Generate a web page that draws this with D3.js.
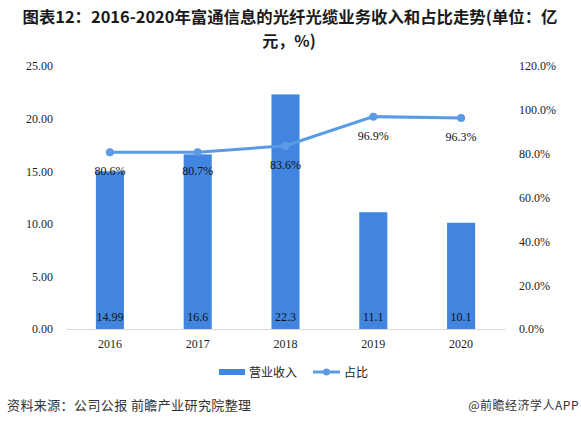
<!DOCTYPE html>
<html>
<head>
<meta charset="utf-8">
<script src="https://cdn.jsdelivr.net/npm/d3@7"></script>
<style>
  body { margin: 0; background: #fff; }
  #chart { width: 581px; height: 425px; }
</style>
</head>
<body>
<div id="chart"></div>
<script>
const years = ["2016", "2017", "2018", "2019", "2020"];
const revenue = [14.99, 16.6, 22.3, 11.1, 10.1];
const revenueLabels = ["14.99", "16.6", "22.3", "11.1", "10.1"];
const share = [80.6, 80.7, 83.6, 96.9, 96.3];
const leftTicks = [0, 5, 10, 15, 20, 25];
const rightTicks = [0, 20, 40, 60, 80, 100, 120];

const W = 581, H = 425;
const margin = { top: 66, left: 66, right: 76, bottom: 96 };
const serif = "'Liberation Serif', 'Times New Roman', serif";
const sans = "'Noto Sans CJK SC', 'Noto Sans', sans-serif";

const svg = d3.select("#chart").append("svg")
    .attr("width", W)
    .attr("height", H);

const x = d3.scaleBand()
    .domain(years)
    .range([margin.left, W - margin.right])
    .paddingInner(0.68)
    .paddingOuter(0.34);

const yL = d3.scaleLinear().domain([0, 25]).range([H - margin.bottom, margin.top]);
const yR = d3.scaleLinear().domain([0, 120]).range([H - margin.bottom, margin.top]);

// title, two lines like the original
svg.append("text")
    .attr("x", 290).attr("y", 23)
    .attr("text-anchor", "middle")
    .attr("font-family", sans)
    .attr("font-weight", "bold")
    .attr("font-size", 16)
    .attr("fill", "#1a1a1a")
    .attr("textLength", 535)
    .attr("lengthAdjust", "spacingAndGlyphs")
    .text("图表12：2016-2020年富通信息的光纤光缆业务收入和占比走势(单位：亿");
svg.append("text")
    .attr("x", 289).attr("y", 47)
    .attr("text-anchor", "middle")
    .attr("font-family", sans)
    .attr("font-weight", "bold")
    .attr("font-size", 16)
    .attr("fill", "#1a1a1a")
    .text("元，%)");

// left axis
const leftAxis = svg.append("g")
    .attr("transform", `translate(${margin.left - 10},0)`)
    .call(d3.axisLeft(yL).tickValues(leftTicks).tickFormat(d3.format(".2f")).tickSize(0));
leftAxis.select(".domain").remove();
leftAxis.selectAll("text")
    .attr("font-family", serif).attr("font-size", 12).attr("fill", "#222");

// right axis
const rightAxis = svg.append("g")
    .attr("transform", `translate(${W - margin.right + 11},0)`)
    .call(d3.axisRight(yR).tickValues(rightTicks).tickFormat(d => d.toFixed(1) + "%").tickSize(0));
rightAxis.select(".domain").remove();
rightAxis.selectAll("text")
    .attr("font-family", serif).attr("font-size", 12).attr("fill", "#222");

// x axis
const xAxis = svg.append("g")
    .attr("transform", `translate(0,${H - margin.bottom})`)
    .call(d3.axisBottom(x).tickSize(0).tickPadding(10));
xAxis.select(".domain").attr("stroke", "#d9d9d9").attr("stroke-width", 1);
xAxis.selectAll("text")
    .attr("font-family", serif).attr("font-size", 12).attr("fill", "#222");

// bars
svg.selectAll("rect.bar")
    .data(revenue)
    .join("rect")
    .attr("class", "bar")
    .attr("x", (d, i) => x(years[i]))
    .attr("width", x.bandwidth())
    .attr("y", d => yL(d))
    .attr("height", d => yL(0) - yL(d))
    .attr("fill", "#4285e0");

svg.selectAll("text.barLabel")
    .data(revenueLabels)
    .join("text")
    .attr("class", "barLabel")
    .attr("x", (d, i) => x(years[i]) + x.bandwidth() / 2)
    .attr("y", yL(0) - 8)
    .attr("text-anchor", "middle")
    .attr("font-family", serif)
    .attr("font-size", 12)
    .attr("fill", "#111")
    .text(d => d);

// line
const line = d3.line()
    .x((d, i) => x(years[i]) + x.bandwidth() / 2)
    .y(d => yR(d));

svg.append("path")
    .datum(share)
    .attr("d", line)
    .attr("fill", "none")
    .attr("stroke", "#5b9be6")
    .attr("stroke-width", 3);

svg.selectAll("circle.pt")
    .data(share)
    .join("circle")
    .attr("class", "pt")
    .attr("cx", (d, i) => x(years[i]) + x.bandwidth() / 2)
    .attr("cy", d => yR(d))
    .attr("r", 4)
    .attr("fill", "#5b9be6");

svg.selectAll("text.ptLabel")
    .data(share)
    .join("text")
    .attr("class", "ptLabel")
    .attr("x", (d, i) => x(years[i]) + x.bandwidth() / 2)
    .attr("y", d => yR(d) + 23)
    .attr("text-anchor", "middle")
    .attr("font-family", serif)
    .attr("font-size", 12)
    .attr("fill", "#111")
    .text(d => d.toFixed(1) + "%");

// legend
const legend = svg.append("g").attr("transform", "translate(0,372)");
legend.append("rect")
    .attr("x", 219).attr("y", -3).attr("width", 26).attr("height", 6)
    .attr("fill", "#4285e0");
legend.append("text")
    .attr("x", 249).attr("y", 5)
    .attr("font-family", sans).attr("font-size", 12).attr("fill", "#222")
    .text("营业收入");
legend.append("line")
    .attr("x1", 313).attr("x2", 340).attr("y1", 0).attr("y2", 0)
    .attr("stroke", "#5b9be6").attr("stroke-width", 3);
legend.append("circle")
    .attr("cx", 326.5).attr("cy", 0).attr("r", 3.5).attr("fill", "#5b9be6");
legend.append("text")
    .attr("x", 344).attr("y", 5)
    .attr("font-family", sans).attr("font-size", 12).attr("fill", "#222")
    .text("占比");

// footer
svg.append("text")
    .attr("x", 7).attr("y", 410)
    .attr("font-family", sans).attr("font-size", 13).attr("fill", "#333")
    .attr("letter-spacing", 0.4)
    .text("资料来源：公司公报 前瞻产业研究院整理");
svg.append("text")
    .attr("x", 579).attr("y", 410)
    .attr("text-anchor", "end")
    .attr("font-family", sans).attr("font-size", 12).attr("fill", "#333")
    .attr("letter-spacing", 0.5)
    .text("@前瞻经济学人APP");
</script>
</body>
</html>
